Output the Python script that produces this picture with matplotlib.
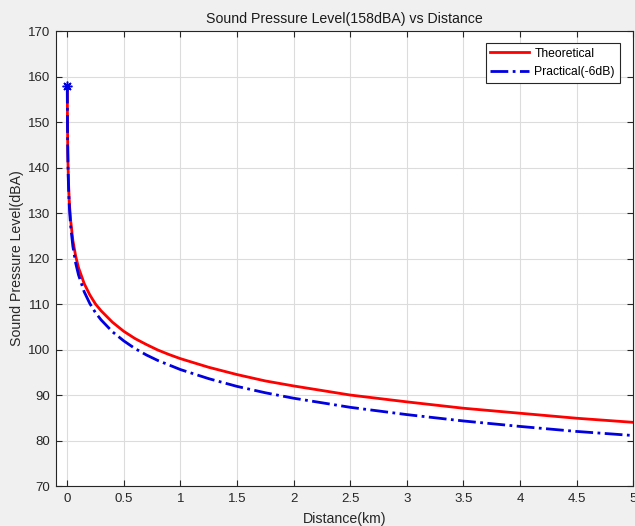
import matplotlib.pyplot as plt

# Valeurs (distance en km, niveau en dBA)
distance_km = [0.001, 0.0015, 0.002, 0.003, 0.005, 0.007, 0.01, 0.015, 0.02, 0.03,
               0.05, 0.075, 0.1, 0.15, 0.2, 0.25, 0.3, 0.4, 0.5, 0.6, 0.7, 0.8,
               0.9, 1.0, 1.25, 1.5, 1.75, 2.0, 2.5, 3.0, 3.5, 4.0, 4.5, 5.0]
niveau_theorique = [158.0, 154.5, 152.0, 148.5, 144.0, 141.1, 138.0, 134.5, 132.0, 128.5,
                    124.0, 120.5, 118.0, 114.5, 112.0, 110.0, 108.5, 106.0, 104.0, 102.4,
                    101.1, 99.9, 98.9, 98.0, 96.1, 94.5, 93.1, 92.0, 90.0, 88.5,
                    87.1, 86.0, 84.9, 84.0]
niveau_pratique = [158.0, 154.3, 151.7, 148.1, 143.5, 140.4, 137.2, 133.5, 130.9, 127.3,
                   122.7, 119.0, 116.4, 112.7, 110.1, 108.1, 106.5, 103.9, 101.9, 100.2,
                   98.8, 97.6, 96.6, 95.6, 93.6, 91.9, 90.5, 89.3, 87.3, 85.7,
                   84.3, 83.1, 82.0, 81.1]
graduations_x = [0, 0.5, 1, 1.5, 2, 2.5, 3, 3.5, 4, 4.5, 5]
etiquettes_x = ['0', '0.5', '1', '1.5', '2', '2.5', '3', '3.5', '4', '4.5', '5']

plt.rcParams['font.family'] = ['Liberation Sans', 'DejaVu Sans']

fig = plt.figure(figsize=(6.35, 5.26), dpi=100, facecolor='#f0f0f0')
ax = fig.add_axes([0.088, 0.076, 0.909, 0.865])

ax.plot(distance_km, niveau_theorique, color='red', linewidth=2, label='Theoretical')
ax.plot(distance_km, niveau_pratique, color='#0000e0', linewidth=2, linestyle='-.',
        label='Practical(-6dB)')
# point de départ (étoile)
ax.plot(distance_km[0], niveau_pratique[0], marker=(8, 2, 0), color='#0000e0',
        markersize=7, markeredgewidth=1.1, linestyle='none')

ax.set_xlim(-0.1, 5)
ax.set_ylim(70, 170)
ax.set_xticks(graduations_x)
ax.set_xticklabels(etiquettes_x)
ax.set_yticks(range(70, 171, 10))

ax.grid(True, color='#dcdcdc', linewidth=0.8)
ax.set_axisbelow(True)
ax.tick_params(direction='in', top=True, right=True, labelsize=9.5,
               colors='#262626', length=4)
ax.tick_params(axis='x', pad=5)
ax.tick_params(axis='y', pad=4)
for s in ax.spines.values():
    s.set_color('#262626')
    s.set_linewidth(0.8)

ax.set_title('Sound Pressure Level(158dBA) vs Distance', fontsize=10.2, color='#1a1a1a', pad=5.5)
ax.set_xlabel('Distance(km)', fontsize=10.2, color='#262626', labelpad=5)
ax.set_ylabel('Sound Pressure Level(dBA)', fontsize=10.2, color='#262626', labelpad=3)

leg = ax.legend(loc='upper right', fontsize=8.7, fancybox=False, edgecolor='#262626',
                framealpha=1, handlelength=3.2, handletextpad=0.45, borderpad=0.4,
                borderaxespad=0, bbox_to_anchor=(0.977, 0.974))
leg.get_frame().set_linewidth(0.8)

fig.savefig('out.png', dpi=100, facecolor=fig.get_facecolor())
